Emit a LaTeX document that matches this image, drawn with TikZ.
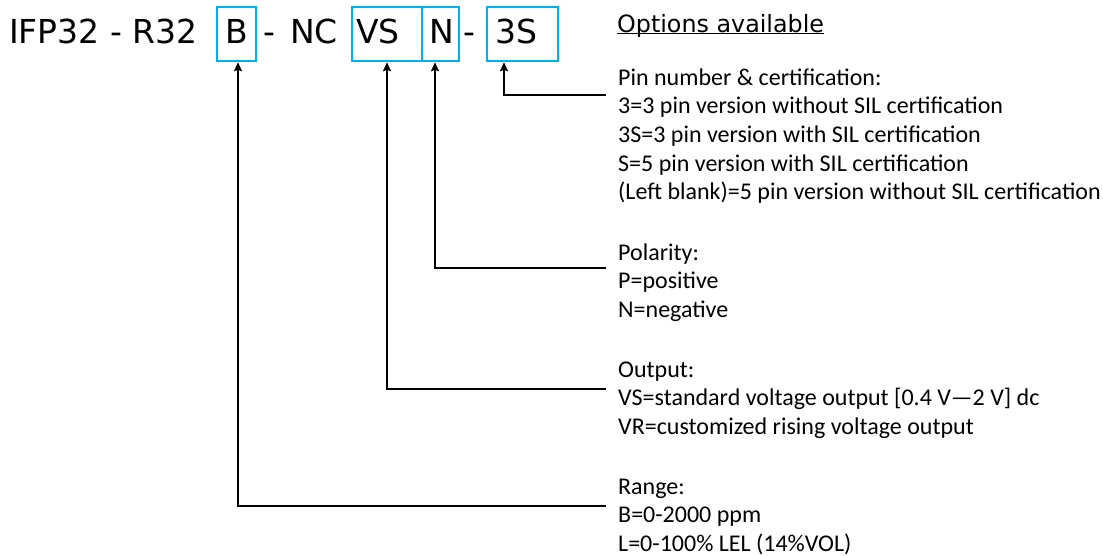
\documentclass[tikz,border=0pt]{standalone}
\usepackage{fontspec}
\setmainfont{Carlito}
\newfontfamily\headfont{DejaVu Sans}
\usetikzlibrary{arrows.meta}

\begin{document}
\begin{tikzpicture}[x=1pt,y=-1pt]
  % Local definitions
  \def\optionlist#1{\begin{tabular}[t]{@{}l@{}}#1\end{tabular}}

  % Colors
  \definecolor{boxcolor}{RGB}{0,176,240}

  % Styles
  \tikzstyle{code text}=[anchor=base west,inner sep=0pt,font=\headfont\fontsize{33}{40}\selectfont]
  \tikzstyle{code box}=[draw=boxcolor,line width=2.5pt,inner sep=0pt,minimum height=54pt]
  \tikzstyle{option text}=[anchor=base west,inner sep=0pt,font=\fontsize{24}{28.7}\selectfont]
  \tikzstyle{pointer line}=[line width=1.8pt,-{Stealth[length=9pt,width=8pt,inset=1.5pt]}]

  \useasboundingbox (0,0) rectangle (1103,555);

  % The code
  \node[code text] (prefix) at (9,43) {IFP32 - R32};
  \node[code text] (codeB) at (225,43) {B};
  \node[code text] (dashA) at (263,43) {-};
  \node[code text] (codeNC) at (290,43) {NC};
  \node[code text] (codeVS) at (356,43) {VS};
  \node[code text] (codeN) at (429,43) {N};
  \node[code text] (dashB) at (463,43) {-};
  \node[code text] (code3S) at (495,43) {3S};

  \node[code box,minimum width=39pt] (boxB) at (236.5,34) {};
  \node[code box,minimum width=70pt] (boxVS) at (387,34) {};
  \node[code box,minimum width=37pt] (boxN) at (440.5,34) {};
  \node[code box,minimum width=71pt] (box3S) at (522.5,34) {};

  % The options
  \node[anchor=base west,inner sep=0pt,font=\headfont\fontsize{23.8}{28}\selectfont]
    (options) at (617,32) {\underline{\smash{Options available}}};

  \node[option text] (pin) at (618,85)
    {\optionlist{Pin number \& certification:\\
     3=3 pin version without SIL certification\\
     3S=3 pin version with SIL certification\\
     S=5 pin version with SIL certification\\
     (Left blank)=5 pin version without SIL certification}};
  \node[option text] (polarity) at (618,260)
    {\optionlist{Polarity:\\P=positive\\N=negative}};
  \node[option text] (output) at (618,377)
    {\optionlist{Output:\\VS=standard voltage output [0.4 V—2 V] dc\\VR=customized rising voltage output}};
  \node[option text] (range) at (618,494)
    {\optionlist{Range:\\B=0-2000 ppm\\L=0-100\% LEL (14\%VOL)}};

  % The pointers
  \draw[pointer line] ([shift={(-12pt,-10pt)}]pin.base west) -| ([xshift=-18.5pt]box3S.south);
  \draw[pointer line] ([shift={(-12pt,-8pt)}]polarity.base west) -| ([xshift=-5.5pt]boxN.south);
  \draw[pointer line] ([shift={(-12pt,-12pt)}]output.base west) -| (boxVS.south);
  \draw[pointer line] ([shift={(-12pt,-12pt)}]range.base west) -| ([xshift=1.5pt]boxB.south);
\end{tikzpicture}
\end{document}
